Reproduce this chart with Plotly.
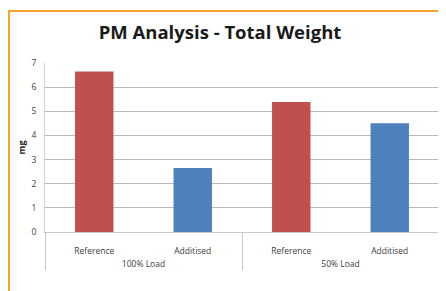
import plotly.graph_objects as go

groups = ["100% Load", "100% Load", "50% Load", "50% Load"]
categories = ["Reference", "Additised", "Reference", "Additised"]
values = [6.65, 2.65, 5.38, 4.5]
bar_colors = ["#C0504D", "#4F81BD", "#C0504D", "#4F81BD"]
y_ticks = [0, 1, 2, 3, 4, 5, 6, 7]

# the page body adds an 8px offset; the figure is sized to fit the window
OFF = 8
W, H = 446 - OFF, 291 - OFF
ml, mr, mt, mb = 45 - OFF, 7, 63 - OFF, 59
pw, ph = W - ml - mr, H - mt - mb

def px_x(x):
    return (x - OFF - ml) / pw

def px_y(y):
    return (H - mb - (y - OFF)) / ph

# labels padded with blank lines, like the spacing in the original
cat_labels = ["<br>" + c + "<br>\u00a0" for c in categories]
grp_labels = list(groups)

fig = go.Figure(go.Bar(
    x=[grp_labels, cat_labels],
    y=values,
    marker=dict(color=bar_colors, line=dict(width=0)),
    width=0.39,
))

orange = "#F5A52E"
fig.add_shape(type="line", xref="paper", yref="paper",
              x0=px_x(9), x1=px_x(460), y0=px_y(11), y1=px_y(11),
              line=dict(color=orange, width=2))
fig.add_shape(type="line", xref="paper", yref="paper",
              x0=px_x(9), x1=px_x(9), y0=px_y(10), y1=px_y(300),
              line=dict(color=orange, width=2))

fig.update_layout(
    width=W, height=H,
    margin=dict(l=ml, r=mr, t=mt, b=mb),
    paper_bgcolor="white", plot_bgcolor="white",
    showlegend=False,
    font=dict(family="Open Sans, Liberation Sans, sans-serif", color="#404040", size=8),
    title=dict(text="<b>PM Analysis - Total Weight</b>", x=(220 - OFF) / W, xref="container",
               y=1 - (33 - OFF) / H, yref="container", xanchor="center", yanchor="middle",
               font=dict(size=18.5, color="#1a1a1a", family="Open Sans, Liberation Sans, sans-serif")),
    xaxis=dict(type="multicategory", showline=True, linecolor="#c8c8c8", linewidth=1,
               showdividers=True, dividercolor="#c8c8c8", dividerwidth=1,
               tickfont=dict(size=8.5, color="#404040")),
    yaxis=dict(range=[0, 7], tickvals=y_ticks, showgrid=True, gridcolor="#b8b8b8",
               gridwidth=1, zeroline=False, showline=True, linecolor="#d0d0d0",
               tickfont=dict(size=8.5, color="#404040"), ticks="", ticklabelstandoff=6,
               title=dict(text="<b>mg</b>", font=dict(size=9, color="#1a1a1a"), standoff=4)),
    bargap=0.6,
)

fig.write_html("out.html")
